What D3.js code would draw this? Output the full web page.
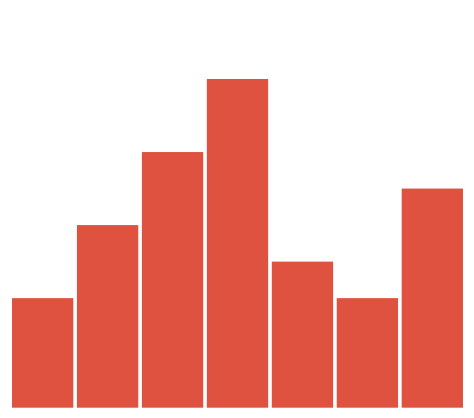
<!DOCTYPE html>
<html><head><meta charset="utf-8">
<script src="https://cdn.jsdelivr.net/npm/d3@7"></script>
<style>html,body{margin:0;padding:0;background:#fff;}</style>
</head><body>
<svg id="c" width="474" height="418"></svg>
<script>
const categories = ["A","B","C","D","E","F","G"];
const values = [3,5,7,9,4,3,6];

const svg = d3.select("#c");
const x = d3.scaleBand().domain(categories).range([12, 463]).paddingInner(0.056).paddingOuter(0);
const y = d3.scaleLinear().domain([0, 9]).range([407.7, 79]);

svg.selectAll("rect").data(values).join("rect")
  .attr("x", (d,i) => x(categories[i]))
  .attr("width", x.bandwidth())
  .attr("y", d => y(d))
  .attr("height", d => y(0) - y(d))
  .attr("fill", "#e05240");
</script>
</body></html>
